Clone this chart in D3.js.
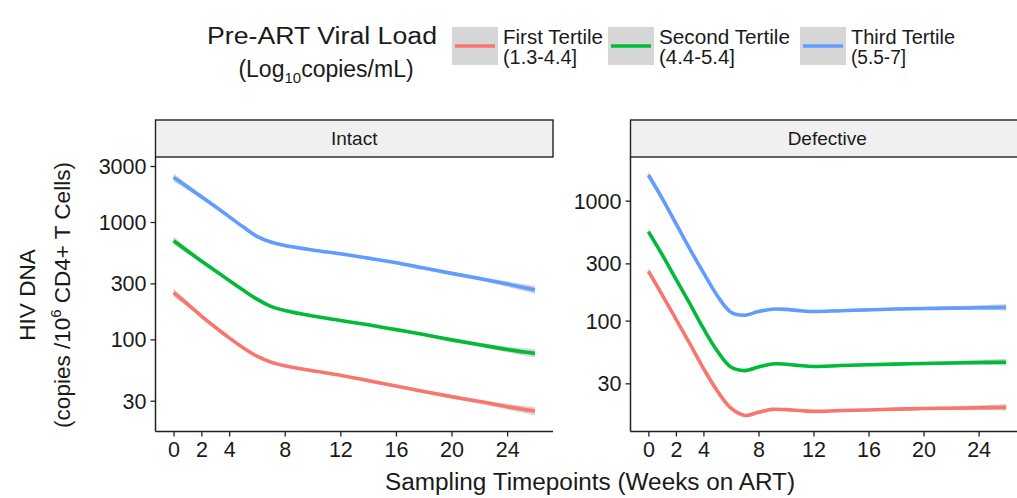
<!DOCTYPE html>
<html>
<head>
<meta charset="utf-8">
<script src="https://cdn.jsdelivr.net/npm/d3@7"></script>
<style>
  body { margin: 0; background: #fff; }
  svg { display: block; font-family: "Liberation Sans", Arial, Helvetica, sans-serif; }
</style>
</head>
<body>
<svg id="chart" width="1017" height="498"></svg>
<script>
// ---- Data: smoothed HIV DNA (copies / 10^6 CD4+ T cells) by pre-ART viral load tertile ----
const tertiles = ["First Tertile", "Second Tertile", "Third Tertile"];
const tertileRanges = ["(1.3-4.4]", "(4.4-5.4]", "(5.5-7]"];
const tertileColors = ["#F8766D", "#00BA38", "#619CFF"];

const weeksIntact = [0, 1, 2, 3, 4, 5, 6, 7, 8, 10, 12, 14, 16, 18, 20, 22, 24, 26];
const intactFirst  = [250, 200, 158, 127, 103, 85, 72, 64, 59.5, 54, 49.5, 44.5, 40, 36, 32.5, 29.5, 26.7, 24.5];
const intactSecond = [693, 566, 465, 384, 318, 263, 220, 191, 176, 158, 145, 133, 121, 110, 99, 90, 82, 76];
const intactThird  = [2400, 1986, 1644, 1355, 1112, 910, 755, 675, 631, 578, 536, 492, 450, 405, 365, 330, 296, 264];
// half-width of the confidence band, in log10 units
const intactBand   = [0.035, 0.025, 0.018, 0.015, 0.013, 0.012, 0.012, 0.012, 0.012, 0.011, 0.011, 0.011, 0.012, 0.013, 0.015, 0.018, 0.024, 0.035];

const weeksDefective = [0, 1, 2, 3, 4, 5, 6, 7, 8, 9, 10, 11, 12, 14, 16, 18, 20, 22, 24, 26];
const defectiveFirst  = [259, 164, 103, 64.5, 40, 26, 18.6, 16.2, 17.2, 18.2, 18.1, 17.8, 17.5, 17.8, 18, 18.3, 18.5, 18.6, 18.75, 18.9];
const defectiveSecond = [552, 355, 222, 139, 86, 56, 41, 38.3, 41, 43.5, 43.3, 42.2, 41.5, 42.2, 42.8, 43.4, 43.9, 44.3, 44.7, 45];
const defectiveThird  = [1637, 1047, 646, 398, 251, 162, 117.5, 111, 119, 124.5, 124, 121, 119, 121, 123, 125, 126, 127, 128, 129];
const defectiveBand   = [0.032, 0.022, 0.016, 0.013, 0.012, 0.011, 0.011, 0.011, 0.011, 0.011, 0.011, 0.011, 0.011, 0.011, 0.011, 0.012, 0.013, 0.016, 0.021, 0.028];

const xTicks = [0, 2, 4, 8, 12, 16, 20, 24];
const xDomain = [-1.3, 27.3];
const yTicksIntact = [30, 100, 300, 1000, 3000];
const yTicksDefective = [30, 100, 300, 1000];
const yDomainIntact = [16.4, 3580];
const yDomainDefective = [11.9, 2312];

// ---- Layout ----
const svg = d3.select("#chart");
const panelTop = 157, panelBottom = 431.5, stripTop = 120;
const ink = "#1a1a1a";

const panels = [
  { title: "Intact", left: 155.5, right: 553, weeks: weeksIntact,
    series: [intactFirst, intactSecond, intactThird], band: intactBand,
    yTicks: yTicksIntact, yDomain: yDomainIntact },
  { title: "Defective", left: 630.5, right: 1024, weeks: weeksDefective,
    series: [defectiveFirst, defectiveSecond, defectiveThird], band: defectiveBand,
    yTicks: yTicksDefective, yDomain: yDomainDefective }
];

panels.forEach(p => {
  const x = d3.scaleLinear().domain(xDomain).range([p.left, p.right]);
  const y = d3.scaleLog().domain(p.yDomain).range([panelBottom, panelTop]);
  const g = svg.append("g");

  // facet strip
  g.append("rect")
    .attr("x", p.left).attr("y", stripTop)
    .attr("width", p.right - p.left).attr("height", panelTop - stripTop)
    .attr("fill", "#f0f0f0").attr("stroke", "#222").attr("stroke-width", 1.4);
  g.append("text")
    .attr("x", (p.left + p.right) / 2).attr("y", (stripTop + panelTop) / 2 + 6.5)
    .attr("text-anchor", "middle").attr("font-size", 19).attr("fill", ink)
    .text(p.title);

  // confidence ribbons and smooth lines
  p.series.forEach((vals, i) => {
    const pts = p.weeks.map((w, k) => ({ w, v: vals[k], h: p.band[k] }));
    const area = d3.area()
      .x(d => x(d.w))
      .y0(d => y(d.v / Math.pow(10, d.h)))
      .y1(d => y(d.v * Math.pow(10, d.h)))
      .curve(d3.curveCatmullRom.alpha(0.5));
    g.append("path").datum(pts)
      .attr("d", area).attr("fill", "#999").attr("fill-opacity", 0.4);
    const line = d3.line()
      .x(d => x(d.w)).y(d => y(d.v))
      .curve(d3.curveCatmullRom.alpha(0.5));
    g.append("path").datum(pts)
      .attr("d", line).attr("fill", "none")
      .attr("stroke", tertileColors[i]).attr("stroke-width", 3.6)
      .attr("stroke-linecap", "butt");
  });

  // axes
  const xAxis = d3.axisBottom(x).tickValues(xTicks).tickSize(5).tickPadding(5).tickFormat(d3.format("d"));
  const gx = g.append("g").attr("transform", `translate(0,${panelBottom})`).call(xAxis);
  gx.select(".domain").attr("d", `M${p.left},0H${p.right}`).attr("stroke", "#222").attr("stroke-width", 1.5);
  gx.selectAll(".tick line").attr("stroke", "#222").attr("stroke-width", 1.3);
  gx.selectAll(".tick text").attr("font-size", 21.5).attr("fill", ink).attr("font-family", null);

  const yAxis = d3.axisLeft(y).tickValues(p.yTicks).tickSize(5).tickPadding(4).tickFormat(d3.format("d"));
  const gy = g.append("g").attr("transform", `translate(${p.left},0)`).call(yAxis);
  gy.select(".domain").attr("d", `M0,${panelTop}V${panelBottom}`).attr("stroke", "#222").attr("stroke-width", 1.5);
  gy.selectAll(".tick line").attr("stroke", "#222").attr("stroke-width", 1.3);
  gy.selectAll(".tick text").attr("font-size", 21.5).attr("fill", ink).attr("font-family", null).attr("dy", "0.35em");
});

// axis titles
svg.append("text")
  .attr("x", 590).attr("y", 490).attr("text-anchor", "middle")
  .attr("font-size", 23.5).attr("fill", ink)
  .attr("textLength", 410).attr("lengthAdjust", "spacingAndGlyphs")
  .text("Sampling Timepoints (Weeks on ART)");

const yTitle = svg.append("text")
  .attr("transform", "translate(0,295) rotate(-90)")
  .attr("text-anchor", "middle").attr("font-size", 22.5).attr("fill", ink);
yTitle.append("tspan").attr("x", 0).attr("y", 35).text("HIV DNA");
const l2 = yTitle.append("tspan").attr("x", 0).attr("y", 70);
l2.append("tspan").text("(copies /10");
l2.append("tspan").attr("dy", -9).attr("font-size", 15).text("6");
l2.append("tspan").attr("dy", 9).text(" CD4+ T Cells)");

// legend
const lg = svg.append("g");
const lt = lg.append("text").attr("text-anchor", "middle").attr("font-size", 23).attr("fill", ink);
lt.append("tspan").attr("x", 322).attr("y", 44)
  .attr("textLength", 230).attr("lengthAdjust", "spacingAndGlyphs")
  .text("Pre-ART Viral Load");
const lt2 = lt.append("tspan").attr("x", 326).attr("y", 77);
lt2.append("tspan").text("(Log");
lt2.append("tspan").attr("dy", 6).attr("font-size", 15).text("10");
lt2.append("tspan").attr("dy", -6).text("copies/mL)");

const keyX = [452, 608, 800];
const labelWidths = [100, 131, 104];
const rangeWidths = [74, 76, 55];
tertiles.forEach((t, i) => {
  const kx = keyX[i];
  lg.append("rect").attr("x", kx).attr("y", 27).attr("width", 46).attr("height", 38).attr("fill", "#d6d6d6");
  lg.append("line").attr("x1", kx + 3).attr("x2", kx + 43).attr("y1", 46).attr("y2", 46)
    .attr("stroke", tertileColors[i]).attr("stroke-width", 3.6);
  const tx = lg.append("text").attr("font-size", 19.5).attr("fill", ink);
  tx.append("tspan").attr("x", kx + 51).attr("y", 44)
    .attr("textLength", labelWidths[i]).attr("lengthAdjust", "spacingAndGlyphs").text(t);
  tx.append("tspan").attr("x", kx + 51).attr("y", 64)
    .attr("textLength", rangeWidths[i]).attr("lengthAdjust", "spacingAndGlyphs").text(tertileRanges[i]);
});
</script>
</body>
</html>
